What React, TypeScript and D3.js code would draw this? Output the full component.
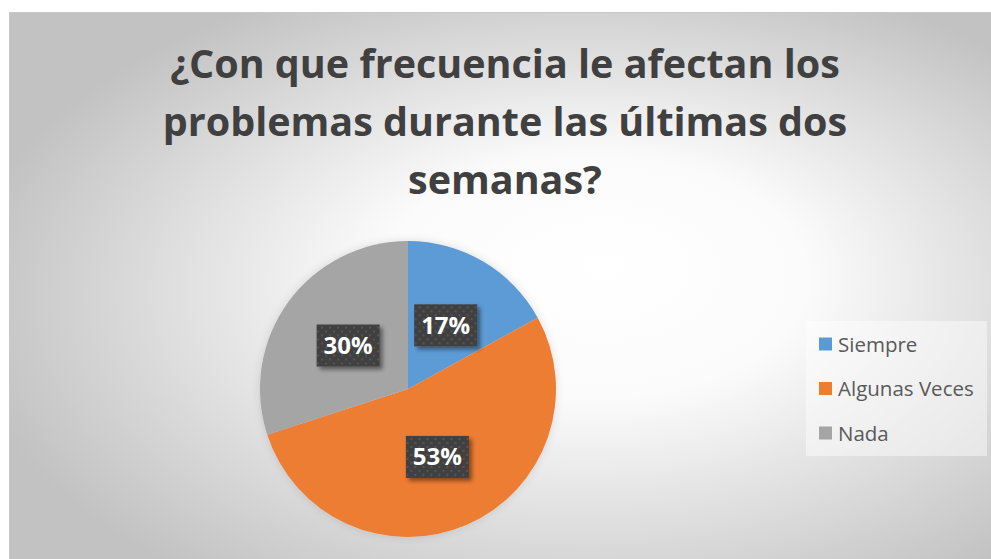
import React from "react";
import * as d3 from "d3";

const categories = ["Siempre", "Algunas Veces", "Nada"];
const values = [17, 53, 30];
const colors = ["#5b9bd5", "#ed7d31", "#a5a5a5"];
const titleLines = [
  "¿Con que frecuencia le afectan los",
  "problemas durante las últimas dos",
  "semanas?",
];

const W = 991;
const H = 559;

export default function App() {
  const cx = 408;
  const cy = 389;
  const r = 148;
  const pie = d3.pie<number>().sort(null).value((d) => d)(values);
  const arc = d3.arc<d3.PieArcDatum<number>>().innerRadius(0).outerRadius(r);
  const total = d3.sum(values);
  const legendY = d3.scalePoint<string>().domain(categories).range([344, 433]);

  return (
    <svg
      width={W}
      height={H}
      style={{ position: "absolute", left: 0, top: 0 }}
      fontFamily="'Open Sans', Lato, sans-serif"
    >
      <defs>
        <radialGradient id="bg" cx="0.57" cy="0.52" r="0.62" fx="0.6" fy="0.45">
          <stop offset="0" stopColor="#ffffff" />
          <stop offset="0.35" stopColor="#fbfbfb" />
          <stop offset="1" stopColor="#c2c2c2" />
        </radialGradient>
        <pattern id="dots" width="8" height="8" patternUnits="userSpaceOnUse">
          <rect width="8" height="8" fill="#404040" />
          <rect x="1" y="1" width="2" height="2" fill="#555555" />
          <rect x="5" y="5" width="2" height="2" fill="#555555" />
        </pattern>
        <filter id="shadow" x="-30%" y="-30%" width="160%" height="160%">
          <feDropShadow dx="3" dy="3" stdDeviation="2" floodColor="#000" floodOpacity="0.45" />
        </filter>
        <filter id="pieShadow" x="-20%" y="-20%" width="140%" height="140%">
          <feDropShadow dx="0" dy="0" stdDeviation="4" floodColor="#000" floodOpacity="0.12" />
        </filter>
      </defs>
      <rect x={9.5} y={12.5} width={W} height={H} fill="url(#bg)" stroke="#c8c8c8" />
      <g fill="#404040" fontWeight="bold" fontSize={39.5} textAnchor="middle">
        {titleLines.map((t, i) => (
          <text key={i} x={505} y={78 + i * 58}>
            {t}
          </text>
        ))}
      </g>
      <g transform={`translate(${cx},${cy})`} filter="url(#pieShadow)">
        {pie.map((p, i) => (
          <path key={i} d={arc(p) || ""} fill={colors[i]} />
        ))}
      </g>
      <g transform={`translate(${cx},${cy})`}>
        {pie.map((p, i) => {
          const [x, y] = arc.centroid(p);
          const label = `${Math.round((p.data / total) * 100)}%`;
          return (
            <g key={i} transform={`translate(${x},${y})`}>
              <rect x={-31.5} y={-21} width={63} height={42} fill="url(#dots)" filter="url(#shadow)" />
              <text y={8.5} textAnchor="middle" fill="#ffffff" fontWeight="bold" fontSize={24}>
                {label}
              </text>
            </g>
          );
        })}
      </g>
      <rect x={806} y={321} width={181} height={135} fill="#ffffff" fillOpacity={0.45} />
      {categories.map((c, i) => (
        <g key={c} transform={`translate(819,${legendY(c)})`}>
          <rect x={0} y={-6.5} width={13} height={13} fill={colors[i]} />
          <text x={19} y={7.5} fontSize={20.5} fill="#595959">
            {c}
          </text>
        </g>
      ))}
    </svg>
  );
}
